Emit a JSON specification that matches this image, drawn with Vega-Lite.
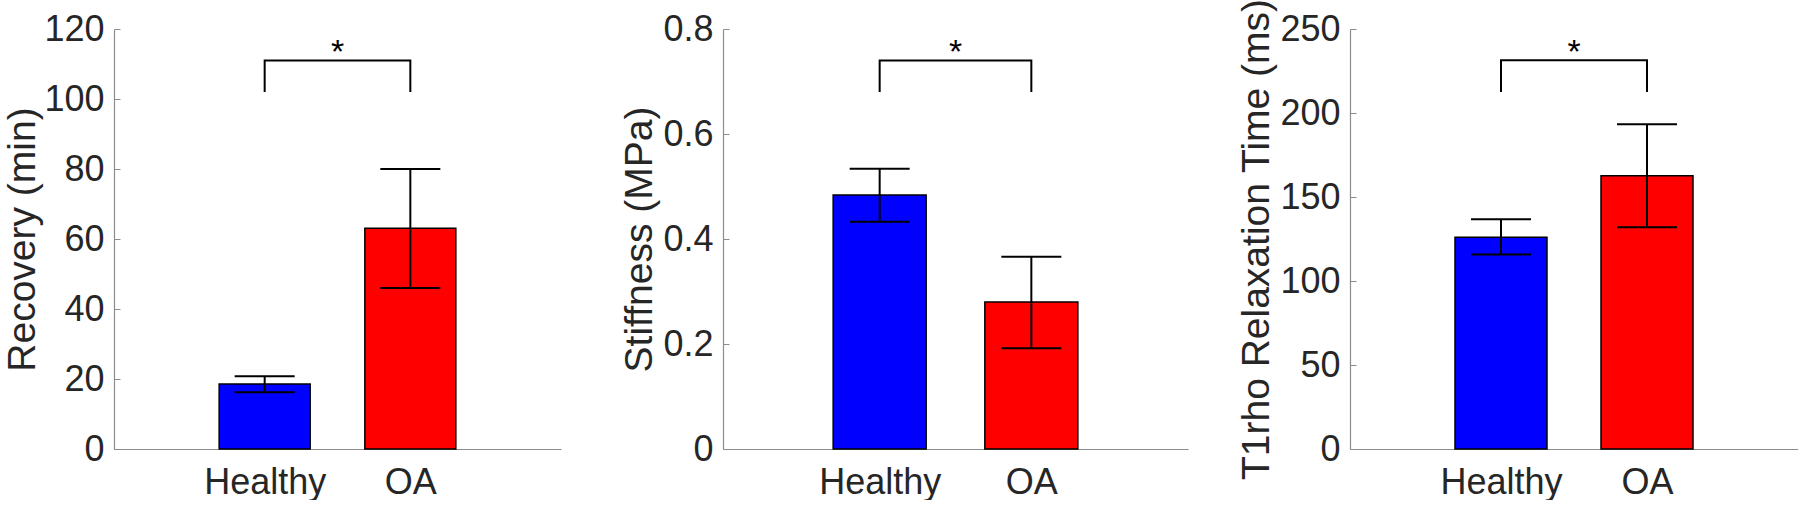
{
  "$schema": "https://vega.github.io/schema/vega-lite/v6.json",
  "padding": {"left": 3, "top": -2, "right": 0, "bottom": 0},
  "background": "white",
  "spacing": 162,
  "bounds": "flush",
  "datasets": {
    "recovery": [
      {"idx": 1, "group": "Healthy", "mean": 18.6, "lo": 16.2, "hi": 20.8},
      {"idx": 2, "group": "OA", "mean": 63.1, "lo": 46.0, "hi": 80.0}
    ],
    "stiffness": [
      {"idx": 1, "group": "Healthy", "mean": 0.484, "lo": 0.433, "hi": 0.534},
      {"idx": 2, "group": "OA", "mean": 0.28, "lo": 0.192, "hi": 0.366}
    ],
    "t1rho": [
      {"idx": 1, "group": "Healthy", "mean": 126.0, "lo": 115.7, "hi": 136.7},
      {"idx": 2, "group": "OA", "mean": 162.7, "lo": 132.0, "hi": 193.3}
    ],
    "recovery_sig": [
      {"k": 0, "bx": 1, "by": 102},
      {"k": 1, "bx": 1, "by": 111},
      {"k": 2, "bx": 2, "by": 111},
      {"k": 3, "bx": 2, "by": 102}
    ],
    "stiffness_sig": [
      {"k": 0, "bx": 1, "by": 0.68},
      {"k": 1, "bx": 1, "by": 0.74},
      {"k": 2, "bx": 2, "by": 0.74},
      {"k": 3, "bx": 2, "by": 0.68}
    ],
    "t1rho_sig": [
      {"k": 0, "bx": 1, "by": 212.5},
      {"k": 1, "bx": 1, "by": 231.4},
      {"k": 2, "bx": 2, "by": 231.4},
      {"k": 3, "bx": 2, "by": 212.5}
    ],
    "recovery_star": [{"mx": 1.5, "sy": 110.3, "label": "*"}],
    "stiffness_star": [{"mx": 1.5, "sy": 0.735, "label": "*"}],
    "t1rho_star": [{"mx": 1.5, "sy": 229.8, "label": "*"}]
  },
  "config": {
    "view": {"stroke": null},
    "font": "Liberation Sans",
    "axis": {
      "labelFont": "Liberation Sans",
      "titleFont": "Liberation Sans",
      "labelFontSize": 36,
      "titleFontSize": 39,
      "labelColor": "#262626",
      "titleColor": "#262626",
      "titleFontWeight": "normal",
      "domainColor": "#8c8c8c",
      "domainWidth": 1.2,
      "tickColor": "#8c8c8c",
      "grid": false
    }
  },
  "hconcat": [
    {
      "width": 447,
      "height": 420,
      "layer": [
        {
          "data": {"name": "recovery"},
          "mark": {"type": "bar", "orient": "vertical", "size": 91, "stroke": "#000", "strokeWidth": 1.5},
          "encoding": {
            "x": {"field": "idx", "type": "quantitative", "scale": {"domain": [0, 3], "nice": false},
                  "axis": {"values": [1, 2], "labelExpr": "datum.value == 1 ? 'Healthy' : 'OA'", "ticks": false, "labelPadding": 16, "title": null, "labelFlush": false}},
            "y": {"field": "mean", "type": "quantitative", "scale": {"domain": [0, 120], "nice": false},
                  "axis": {"values": [0, 20, 40, 60, 80, 100, 120], "tickSize": -6, "labelPadding": 16, "titlePadding": 1, "title": "Recovery (min)"}},
            "color": {"field": "group", "type": "nominal", "scale": {"domain": ["Healthy", "OA"], "range": ["#0000ff", "#ff0000"]}, "legend": null}
          }
        },
        {
          "data": {"name": "recovery"},
          "mark": {"type": "rule", "strokeWidth": 2, "color": "#000"},
          "encoding": {
            "x": {"field": "idx", "type": "quantitative"},
            "y": {"field": "lo", "type": "quantitative"},
            "y2": {"field": "hi"}
          }
        },
        {
          "data": {"name": "recovery"},
          "mark": {"type": "tick", "orient": "horizontal", "size": 60, "thickness": 2, "color": "#000", "opacity": 1},
          "encoding": {
            "x": {"field": "idx", "type": "quantitative"},
            "y": {"field": "lo", "type": "quantitative"}
          }
        },
        {
          "data": {"name": "recovery"},
          "mark": {"type": "tick", "orient": "horizontal", "size": 60, "thickness": 2, "color": "#000", "opacity": 1},
          "encoding": {
            "x": {"field": "idx", "type": "quantitative"},
            "y": {"field": "hi", "type": "quantitative"}
          }
        },
        {
          "data": {"name": "recovery_sig"},
          "mark": {"type": "line", "color": "#000", "strokeWidth": 2},
          "encoding": {
            "x": {"field": "bx", "type": "quantitative"},
            "y": {"field": "by", "type": "quantitative"},
            "order": {"field": "k"}
          }
        },
        {
          "data": {"name": "recovery_star"},
          "mark": {"type": "text", "fontSize": 34, "font": "Liberation Sans", "color": "#000", "baseline": "alphabetic", "align": "center"},
          "encoding": {
            "x": {"field": "mx", "type": "quantitative"},
            "y": {"field": "sy", "type": "quantitative"},
            "text": {"field": "label"}
          }
        }
      ]
    },
    {
      "width": 465,
      "height": 420,
      "layer": [
        {
          "data": {"name": "stiffness"},
          "mark": {"type": "bar", "orient": "vertical", "size": 93, "stroke": "#000", "strokeWidth": 1.5},
          "encoding": {
            "x": {"field": "idx", "type": "quantitative", "scale": {"domain": [0, 3], "nice": false},
                  "axis": {"values": [1, 2], "labelExpr": "datum.value == 1 ? 'Healthy' : 'OA'", "ticks": false, "labelPadding": 16, "title": null, "labelFlush": false}},
            "y": {"field": "mean", "type": "quantitative", "scale": {"domain": [0, 0.8], "nice": false},
                  "axis": {"values": [0, 0.2, 0.4, 0.6, 0.8], "labelExpr": "datum.value == 0 ? '0' : format(datum.value, '.1f')", "tickSize": -6, "labelPadding": 16, "titlePadding": 3, "title": "Stiffness (MPa)"}},
            "color": {"field": "group", "type": "nominal", "scale": {"domain": ["Healthy", "OA"], "range": ["#0000ff", "#ff0000"]}, "legend": null}
          }
        },
        {
          "data": {"name": "stiffness"},
          "mark": {"type": "rule", "strokeWidth": 2, "color": "#000"},
          "encoding": {
            "x": {"field": "idx", "type": "quantitative"},
            "y": {"field": "lo", "type": "quantitative"},
            "y2": {"field": "hi"}
          }
        },
        {
          "data": {"name": "stiffness"},
          "mark": {"type": "tick", "orient": "horizontal", "size": 60, "thickness": 2, "color": "#000", "opacity": 1},
          "encoding": {
            "x": {"field": "idx", "type": "quantitative"},
            "y": {"field": "lo", "type": "quantitative"}
          }
        },
        {
          "data": {"name": "stiffness"},
          "mark": {"type": "tick", "orient": "horizontal", "size": 60, "thickness": 2, "color": "#000", "opacity": 1},
          "encoding": {
            "x": {"field": "idx", "type": "quantitative"},
            "y": {"field": "hi", "type": "quantitative"}
          }
        },
        {
          "data": {"name": "stiffness_sig"},
          "mark": {"type": "line", "color": "#000", "strokeWidth": 2},
          "encoding": {
            "x": {"field": "bx", "type": "quantitative"},
            "y": {"field": "by", "type": "quantitative"},
            "order": {"field": "k"}
          }
        },
        {
          "data": {"name": "stiffness_star"},
          "mark": {"type": "text", "fontSize": 34, "font": "Liberation Sans", "color": "#000", "baseline": "alphabetic", "align": "center"},
          "encoding": {
            "x": {"field": "mx", "type": "quantitative"},
            "y": {"field": "sy", "type": "quantitative"},
            "text": {"field": "label"}
          }
        }
      ]
    },
    {
      "width": 448,
      "height": 420,
      "layer": [
        {
          "data": {"name": "t1rho"},
          "mark": {"type": "bar", "orient": "vertical", "size": 92, "stroke": "#000", "strokeWidth": 1.5},
          "encoding": {
            "x": {"field": "idx", "type": "quantitative", "scale": {"domain": [0, 3], "nice": false},
                  "axis": {"values": [1, 2], "labelExpr": "datum.value == 1 ? 'Healthy' : 'OA'", "ticks": false, "labelPadding": 16, "title": null, "labelFlush": false}},
            "y": {"field": "mean", "type": "quantitative", "scale": {"domain": [0, 250], "nice": false},
                  "axis": {"values": [0, 50, 100, 150, 200, 250], "tickSize": -6, "labelPadding": 16, "titlePadding": 3, "title": "T1rho Relaxation Time (ms)"}},
            "color": {"field": "group", "type": "nominal", "scale": {"domain": ["Healthy", "OA"], "range": ["#0000ff", "#ff0000"]}, "legend": null}
          }
        },
        {
          "data": {"name": "t1rho"},
          "mark": {"type": "rule", "strokeWidth": 2, "color": "#000"},
          "encoding": {
            "x": {"field": "idx", "type": "quantitative"},
            "y": {"field": "lo", "type": "quantitative"},
            "y2": {"field": "hi"}
          }
        },
        {
          "data": {"name": "t1rho"},
          "mark": {"type": "tick", "orient": "horizontal", "size": 60, "thickness": 2, "color": "#000", "opacity": 1},
          "encoding": {
            "x": {"field": "idx", "type": "quantitative"},
            "y": {"field": "lo", "type": "quantitative"}
          }
        },
        {
          "data": {"name": "t1rho"},
          "mark": {"type": "tick", "orient": "horizontal", "size": 60, "thickness": 2, "color": "#000", "opacity": 1},
          "encoding": {
            "x": {"field": "idx", "type": "quantitative"},
            "y": {"field": "hi", "type": "quantitative"}
          }
        },
        {
          "data": {"name": "t1rho_sig"},
          "mark": {"type": "line", "color": "#000", "strokeWidth": 2},
          "encoding": {
            "x": {"field": "bx", "type": "quantitative"},
            "y": {"field": "by", "type": "quantitative"},
            "order": {"field": "k"}
          }
        },
        {
          "data": {"name": "t1rho_star"},
          "mark": {"type": "text", "fontSize": 34, "font": "Liberation Sans", "color": "#000", "baseline": "alphabetic", "align": "center"},
          "encoding": {
            "x": {"field": "mx", "type": "quantitative"},
            "y": {"field": "sy", "type": "quantitative"},
            "text": {"field": "label"}
          }
        }
      ]
    }
  ]
}
